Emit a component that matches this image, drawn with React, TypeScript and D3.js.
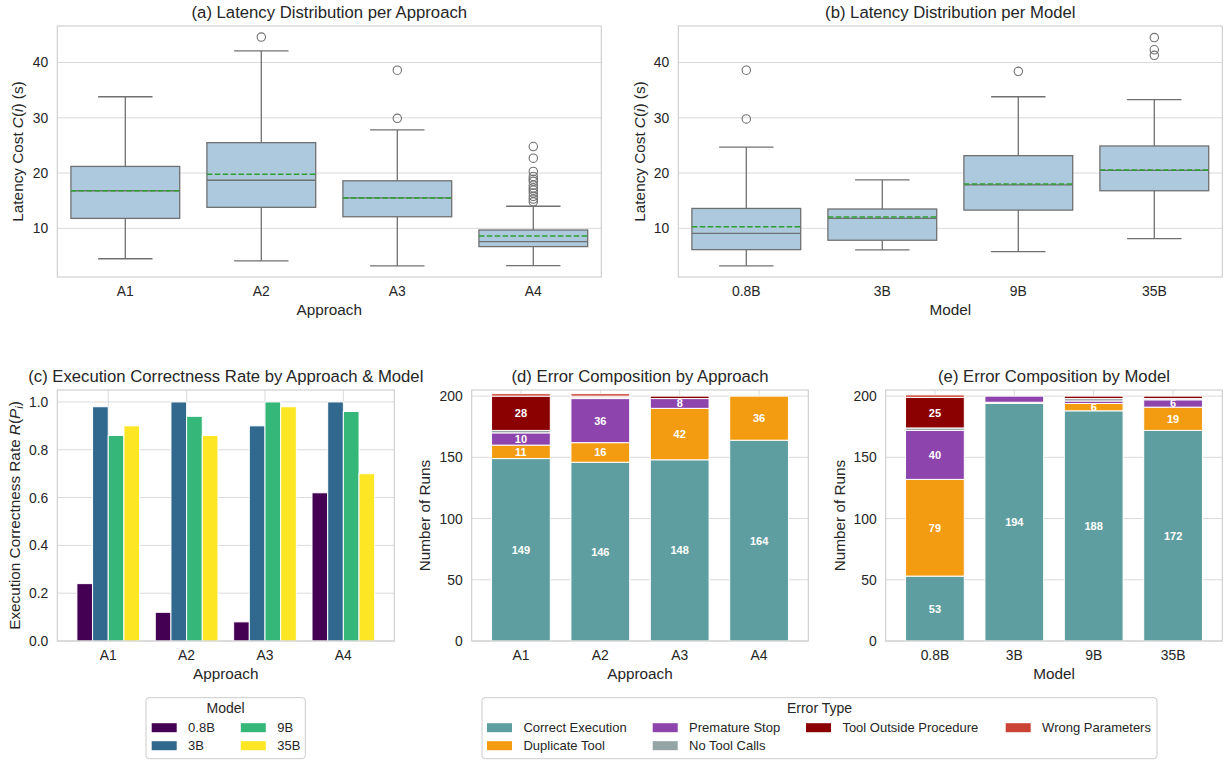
import * as d3 from "d3";
import React from "react";

const approaches = ["A1", "A2", "A3", "A4"];
const models = ["0.8B", "3B", "9B", "35B"];

// (a) latency per approach, box statistics in seconds
const approachLow = [4.5, 4.1, 3.2, 3.25];
const approachQ1 = [11.8, 13.8, 12.1, 6.7];
const approachMedian = [16.8, 18.7, 15.5, 7.6];
const approachMean = [16.8, 19.8, 15.5, 8.6];
const approachQ3 = [21.2, 25.5, 18.6, 9.7];
const approachHigh = [33.8, 42.1, 27.8, 14.0];
const approachOutliers = [
  [],
  [44.6],
  [29.9, 38.6],
  [14.8, 15.3, 15.8, 16.4, 16.9, 17.3, 17.8, 18.5, 18.9, 19.4, 20.3, 22.7, 24.8],
];

// (b) latency per model
const modelLow = [3.2, 6.1, 5.8, 8.15];
const modelQ1 = [6.15, 7.85, 13.3, 16.8];
const modelMedian = [9.1, 11.8, 17.85, 20.5];
const modelMean = [10.3, 12.05, 18.0, 20.55];
const modelQ3 = [13.6, 13.5, 23.15, 24.9];
const modelHigh = [24.7, 18.75, 33.8, 33.3];
const modelOutliers = [[29.8, 38.6], [], [38.4], [41.3, 42.3, 44.5]];

// (c) execution correctness rate, one array per model over approaches
const rate08B = [0.24, 0.12, 0.08, 0.62];
const rate3B = [0.98, 1.0, 0.9, 1.0];
const rate9B = [0.86, 0.94, 1.0, 0.96];
const rate35B = [0.9, 0.86, 0.98, 0.7];
const modelColors = ["#440154", "#31688e", "#35b779", "#fde725"];

// (d) / (e) error composition counts
const errorTypes = [
  "Correct Execution",
  "Duplicate Tool",
  "Premature Stop",
  "No Tool Calls",
  "Tool Outside Procedure",
  "Wrong Parameters",
];
const errorColors = ["#5f9ea0", "#f39c12", "#8e44ad", "#95a5a6", "#8b0000", "#cb4335"];

const approachCorrect = [149, 146, 148, 164];
const approachDuplicate = [11, 16, 42, 36];
const approachPremature = [10, 36, 8, 0];
const approachNoTool = [2, 1, 0, 0];
const approachOutside = [28, 1, 2, 0];
const approachWrong = [2, 2, 0, 0];

const modelCorrect = [53, 194, 188, 172];
const modelDuplicate = [79, 1, 6, 19];
const modelPremature = [40, 5, 2, 6];
const modelNoTool = [2, 0, 2, 1];
const modelOutside = [25, 0, 2, 2];
const modelWrong = [2, 0, 0, 0];

const latencyTicks = [10, 20, 30, 40];
const rateTicks = [0, 0.2, 0.4, 0.6, 0.8, 1.0];
const runTicks = [0, 50, 100, 150, 200];

const FONT = "'Liberation Sans', Arial, Helvetica, sans-serif";
const TEXT = "#262626";
const GRID = "#dadada";
const EDGE = "#cccccc";
const BOX_FILL = "#adc9de";
const BOX_LINE = "#707070";
const MEAN_LINE = "#2ca02c";

type Frame = { x0: number; x1: number; y0: number; y1: number };

type AxesProps = {
  frame: Frame;
  title: string;
  xLabel: string;
  yLabel: React.ReactNode;
  yLabelGap: number;
  x: d3.ScalePoint<string>;
  y: d3.ScaleLinear<number, number>;
  yTicks: number[];
  yFormat: (v: number) => string;
  vGrid: boolean;
  children?: React.ReactNode;
};

const Axes = ({ frame, title, xLabel, yLabel, yLabelGap, x, y, yTicks, yFormat, vGrid, children }: AxesProps) => {
  const cx = (frame.x0 + frame.x1) / 2;
  const cy = (frame.y0 + frame.y1) / 2;
  return (
    <g fontFamily={FONT} fill={TEXT}>
      {yTicks.map((t) => (
        <line key={"hg" + t} x1={frame.x0} x2={frame.x1} y1={y(t)} y2={y(t)} stroke={GRID} strokeWidth={1} />
      ))}
      {vGrid &&
        x.domain().map((c) => (
          <line key={"vg" + c} x1={x(c)} x2={x(c)} y1={frame.y0} y2={frame.y1} stroke={GRID} strokeWidth={1} />
        ))}
      {children}
      <rect
        x={frame.x0}
        y={frame.y0}
        width={frame.x1 - frame.x0}
        height={frame.y1 - frame.y0}
        fill="none"
        stroke={EDGE}
        strokeWidth={1.1}
      />
      {yTicks.map((t) => (
        <text key={"yt" + t} x={frame.x0 - 9} y={y(t)} dy="0.36em" textAnchor="end" fontSize={13.9}>
          {yFormat(t)}
        </text>
      ))}
      {x.domain().map((c) => (
        <text key={"xt" + c} x={x(c)} y={frame.y1 + 19} textAnchor="middle" fontSize={13.9}>
          {c}
        </text>
      ))}
      <text x={cx} y={frame.y0 - 8} textAnchor="middle" fontSize={16.7}>
        {title}
      </text>
      <text x={cx} y={frame.y1 + 38} textAnchor="middle" fontSize={15.3}>
        {xLabel}
      </text>
      <text
        transform={`translate(${frame.x0 - yLabelGap},${cy}) rotate(-90)`}
        textAnchor="middle"
        fontSize={15.3}
      >
        {yLabel}
      </text>
    </g>
  );
};

const latencyLabel = (
  <>
    Latency Cost <tspan fontStyle="italic">C</tspan>(<tspan fontStyle="italic">i</tspan>) (s)
  </>
);

type BoxPanelProps = {
  frame: Frame;
  title: string;
  xLabel: string;
  cats: string[];
  low: number[];
  q1: number[];
  median: number[];
  mean: number[];
  q3: number[];
  high: number[];
  outliers: number[][];
  yLabelGap: number;
};

const BoxPanel = ({ frame, title, xLabel, cats, low, q1, median, mean, q3, high, outliers, yLabelGap }: BoxPanelProps) => {
  const x = d3.scalePoint<string>().domain(cats).range([frame.x0, frame.x1]).padding(0.5);
  const y = d3.scaleLinear().domain([1.2, 46.6]).range([frame.y1, frame.y0]);
  const bw = x.step() * 0.8;
  const cap = bw / 2;
  return (
    <Axes
      frame={frame}
      title={title}
      xLabel={xLabel}
      yLabel={latencyLabel}
      yLabelGap={yLabelGap}
      x={x}
      y={y}
      yTicks={latencyTicks}
      yFormat={(v) => String(v)}
      vGrid={false}
    >
      {cats.map((c, i) => {
        const cx = x(c) ?? 0;
        return (
          <g key={c}>
            <line x1={cx} x2={cx} y1={y(q3[i])} y2={y(high[i])} stroke={BOX_LINE} strokeWidth={1.3} />
            <line x1={cx} x2={cx} y1={y(q1[i])} y2={y(low[i])} stroke={BOX_LINE} strokeWidth={1.3} />
            <line x1={cx - cap / 2} x2={cx + cap / 2} y1={y(high[i])} y2={y(high[i])} stroke={BOX_LINE} strokeWidth={1.3} />
            <line x1={cx - cap / 2} x2={cx + cap / 2} y1={y(low[i])} y2={y(low[i])} stroke={BOX_LINE} strokeWidth={1.3} />
            <rect
              x={cx - bw / 2}
              y={y(q3[i])}
              width={bw}
              height={y(q1[i]) - y(q3[i])}
              fill={BOX_FILL}
              stroke={BOX_LINE}
              strokeWidth={1.3}
            />
            <line x1={cx - bw / 2} x2={cx + bw / 2} y1={y(median[i])} y2={y(median[i])} stroke={BOX_LINE} strokeWidth={1.3} />
            <line
              x1={cx - bw / 2}
              x2={cx + bw / 2}
              y1={y(mean[i])}
              y2={y(mean[i])}
              stroke={MEAN_LINE}
              strokeWidth={1.5}
              strokeDasharray="5.5,2.4"
            />
            {outliers[i].map((v, k) => (
              <circle key={k} cx={cx} cy={y(v)} r={4.2} fill="none" stroke={BOX_LINE} strokeWidth={1.1} />
            ))}
          </g>
        );
      })}
    </Axes>
  );
};

const RatePanel = ({ frame }: { frame: Frame }) => {
  const x = d3.scalePoint<string>().domain(approaches).range([frame.x0, frame.x1]).padding(0.65);
  const y = d3.scaleLinear().domain([0, 1.05]).range([frame.y1, frame.y0]);
  const inner = d3
    .scaleBand<string>()
    .domain(models)
    .range([-0.4 * x.step(), 0.4 * x.step()]);
  const series = [rate08B, rate3B, rate9B, rate35B];
  return (
    <Axes
      frame={frame}
      title="(c) Execution Correctness Rate by Approach & Model"
      xLabel="Approach"
      yLabel={
        <>
          Execution Correctness Rate <tspan fontStyle="italic">R</tspan>(<tspan fontStyle="italic">P</tspan>
          <tspan fontStyle="italic" fontSize={11} dy={3}>
            i
          </tspan>
          <tspan dy={-3}>)</tspan>
        </>
      }
      yLabelGap={37}
      x={x}
      y={y}
      yTicks={rateTicks}
      yFormat={(v) => v.toFixed(1)}
      vGrid={true}
    >
      {approaches.map((a, i) =>
        models.map((m, j) => (
          <rect
            key={a + m}
            x={(x(a) ?? 0) + (inner(m) ?? 0)}
            y={y(series[j][i])}
            width={inner.bandwidth()}
            height={y(0) - y(series[j][i])}
            fill={modelColors[j]}
            stroke="#ffffff"
            strokeWidth={1}
          />
        ))
      )}
    </Axes>
  );
};

type StackPanelProps = {
  frame: Frame;
  title: string;
  xLabel: string;
  cats: string[];
  columns: number[][];
  yLabelGap: number;
};

const StackPanel = ({ frame, title, xLabel, cats, columns, yLabelGap }: StackPanelProps) => {
  const x = d3.scalePoint<string>().domain(cats).range([frame.x0, frame.x1]).padding(0.62);
  const y = d3.scaleLinear().domain([0, 205]).range([frame.y1, frame.y0]);
  const rows = cats.map((c, i) => {
    const r: { [k: string]: number | string } = { cat: c };
    errorTypes.forEach((e, k) => (r[e] = columns[k][i]));
    return r;
  });
  const stacked = d3.stack<{ [k: string]: number | string }>().keys(errorTypes)(rows);
  const bw = x.step() * 0.74;
  return (
    <Axes
      frame={frame}
      title={title}
      xLabel={xLabel}
      yLabel="Number of Runs"
      yLabelGap={yLabelGap}
      x={x}
      y={y}
      yTicks={runTicks}
      yFormat={(v) => String(v)}
      vGrid={true}
    >
      {stacked.map((layer, k) =>
        layer.map((seg, i) => {
          const v = seg[1] - seg[0];
          if (v <= 0) return null;
          const cx = x(cats[i]) ?? 0;
          return (
            <g key={k + "-" + i}>
              <rect
                x={cx - bw / 2}
                y={y(seg[1])}
                width={bw}
                height={y(seg[0]) - y(seg[1])}
                fill={errorColors[k]}
                stroke="#ffffff"
                strokeWidth={1}
              />
              {v >= 6 && (
                <text
                  x={cx}
                  y={(y(seg[0]) + y(seg[1])) / 2}
                  dy="0.36em"
                  textAnchor="middle"
                  fontSize={11}
                  fontWeight="bold"
                  fill="#ffffff"
                >
                  {v}
                </text>
              )}
            </g>
          );
        })
      )}
    </Axes>
  );
};

type LegendProps = {
  x0: number;
  x1: number;
  y0: number;
  y1: number;
  title: string;
  labels: string[];
  colors: string[];
  colX: number[];
};

// matplotlib-style column filling: the first (n % ncol) columns take one extra row
const legendSlots = (n: number, ncol: number) => {
  const perCol = Math.floor(n / ncol);
  const extra = n % ncol;
  const slots: { col: number; row: number }[] = [];
  for (let c = 0; c < ncol; c++) {
    const count = perCol + (c < extra ? 1 : 0);
    for (let r = 0; r < count; r++) slots.push({ col: c, row: r });
  }
  return slots;
};

const Legend = ({ x0, x1, y0, y1, title, labels, colors, colX }: LegendProps) => {
  const rowY = [727.7, 745.7];
  const slots = legendSlots(labels.length, colX.length);
  return (
    <g fontFamily={FONT} fill={TEXT}>
      <rect x={x0} y={y0} width={x1 - x0} height={y1 - y0} rx={3} fill="#ffffff" stroke={EDGE} strokeWidth={1} />
      <text x={(x0 + x1) / 2} y={713.3} textAnchor="middle" fontSize={14}>
        {title}
      </text>
      {labels.map((l, i) => {
        const px = colX[slots[i].col];
        const py = rowY[slots[i].row];
        return (
          <g key={l}>
            <rect x={px} y={py - 4.5} width={25} height={9} fill={colors[i]} />
            <text x={px + 36.4} y={py} dy="0.36em" fontSize={13}>
              {l}
            </text>
          </g>
        );
      })}
    </g>
  );
};

export default function App() {
  return (
    <svg
      width={1228}
      height={762}
      viewBox="0 0 1228 762"
      style={{ position: "absolute", left: 0, top: 0, background: "#ffffff" }}
    >
      <rect x={0} y={0} width={1228} height={762} fill="#ffffff" />
      <BoxPanel
        frame={{ x0: 57.3, x1: 601.3, y0: 26, y1: 277 }}
        title="(a) Latency Distribution per Approach"
        xLabel="Approach"
        cats={approaches}
        low={approachLow}
        q1={approachQ1}
        median={approachMedian}
        mean={approachMean}
        q3={approachQ3}
        high={approachHigh}
        outliers={approachOutliers}
        yLabelGap={34}
      />
      <BoxPanel
        frame={{ x0: 678.3, x1: 1222.3, y0: 26, y1: 277 }}
        title="(b) Latency Distribution per Model"
        xLabel="Model"
        cats={models}
        low={modelLow}
        q1={modelQ1}
        median={modelMedian}
        mean={modelMean}
        q3={modelQ3}
        high={modelHigh}
        outliers={modelOutliers}
        yLabelGap={33.5}
      />
      <RatePanel frame={{ x0: 57.3, x1: 394.3, y0: 390, y1: 641 }} />
      <StackPanel
        frame={{ x0: 471.7, x1: 808.3, y0: 390, y1: 641 }}
        title="(d) Error Composition by Approach"
        xLabel="Approach"
        cats={approaches}
        columns={[approachCorrect, approachDuplicate, approachPremature, approachNoTool, approachOutside, approachWrong]}
        yLabelGap={41.5}
      />
      <StackPanel
        frame={{ x0: 885.7, x1: 1222.3, y0: 390, y1: 641 }}
        title="(e) Error Composition by Model"
        xLabel="Model"
        cats={models}
        columns={[modelCorrect, modelDuplicate, modelPremature, modelNoTool, modelOutside, modelWrong]}
        yLabelGap={41}
      />
      <Legend
        x0={146}
        x1={305.3}
        y0={697.7}
        y1={758.7}
        title="Model"
        labels={models}
        colors={modelColors}
        colX={[151.7, 240.8]}
      />
      <Legend
        x0={482}
        x1={1157}
        y0={697.7}
        y1={758.7}
        title="Error Type"
        labels={errorTypes}
        colors={errorColors}
        colX={[487, 652.7, 806, 1005.7]}
      />
    </svg>
  );
}
